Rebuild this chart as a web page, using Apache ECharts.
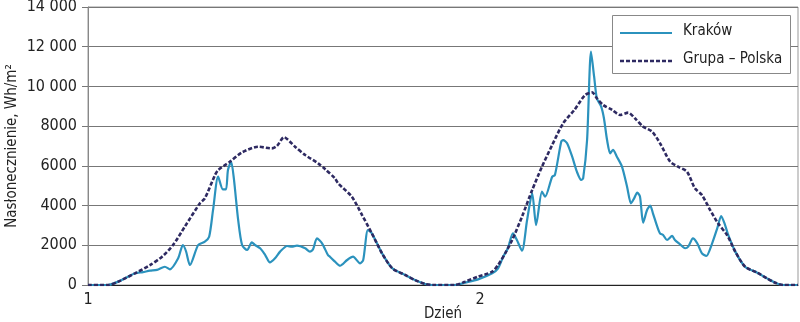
<!DOCTYPE html>
<html>
<head>
<meta charset="utf-8">
<script src="https://cdn.jsdelivr.net/npm/echarts@6/dist/echarts.min.js"></script>
<style>
html,body{margin:0;padding:0;background:#fff;}
#chart{width:800px;height:322px;}
</style>
</head>
<body>
<div id="chart"></div>
<script>
// Day (fractional) positions and values, Wh/m²
var krakowX = [1.000,1.051,1.077,1.120,1.140,1.158,1.176,1.196,1.209,1.230,1.242,1.250,1.260,1.281,1.298,1.309,1.319,1.332,1.344,1.352,1.357,1.365,1.372,1.383,1.393,1.406,1.418,1.426,1.439,1.452,1.464,1.477,1.490,1.508,1.520,1.533,1.554,1.566,1.574,1.584,1.597,1.612,1.617,1.630,1.643,1.661,1.676,1.694,1.702,1.714,1.724,1.750,1.776,1.809,1.834,1.860,1.878,1.936,1.962,1.995,2.031,2.046,2.059,2.071,2.084,2.094,2.107,2.120,2.133,2.143,2.158,2.166,2.184,2.191,2.207,2.212,2.222,2.235,2.247,2.258,2.263,2.273,2.283,2.291,2.298,2.309,2.316,2.324,2.332,2.339,2.349,2.362,2.375,2.385,2.393,2.401,2.408,2.416,2.426,2.434,2.441,2.452,2.459,2.467,2.477,2.490,2.497,2.510,2.523,2.531,2.543,2.554,2.566,2.577,2.592,2.605,2.615,2.625,2.633,2.651,2.676,2.707,2.732,2.753,2.773,2.811];
var krakowY = [0,0,170,590,650,720,760,920,790,1345,2015,1700,1007,2015,2180,2430,3780,5455,4820,4820,5790,6210,5370,3275,2015,1765,2150,2015,1850,1510,1140,1345,1680,1965,1930,1980,1850,1680,1800,2350,2100,1510,1425,1175,970,1260,1425,1090,1260,2770,2600,1595,840,505,250,50,0,0,120,285,590,840,1425,1850,2600,2265,1730,3275,4620,3020,4700,4450,5455,5540,7215,7300,7140,6460,5705,5290,5370,7300,11750,10490,9400,8980,8395,7300,6630,6800,6460,5960,4950,4115,4365,4650,4450,3140,3775,3995,3610,2935,2600,2520,2265,2470,2265,2050,1850,1930,2350,2100,1595,1460,2100,2855,3475,3020,2520,1680,920,620,335,115,0,0];

var polskaX = [1.000,1.051,1.077,1.120,1.158,1.189,1.217,1.247,1.286,1.298,1.324,1.332,1.362,1.393,1.434,1.469,1.482,1.500,1.528,1.554,1.587,1.605,1.630,1.638,1.673,1.699,1.724,1.750,1.776,1.809,1.834,1.860,1.878,1.936,1.962,1.995,2.031,2.046,2.064,2.082,2.107,2.133,2.158,2.184,2.212,2.240,2.268,2.286,2.298,2.314,2.337,2.357,2.378,2.395,2.416,2.439,2.459,2.485,2.505,2.528,2.548,2.566,2.587,2.607,2.630,2.651,2.676,2.707,2.732,2.753,2.773,2.811];
var polskaY = [0,0,170,590,1000,1425,2010,2940,4130,4365,5540,5790,6210,6680,6965,6880,7000,7440,6965,6545,6125,5830,5370,5120,4445,3525,2600,1595,840,505,250,50,0,0,170,420,670,1007,1595,2265,3440,4785,5960,7050,8145,8800,9570,9700,9400,9065,8815,8560,8680,8395,7975,7720,7140,6210,5960,5705,4870,4530,3775,3105,2520,1680,920,620,335,115,0,0];

var seriesNames = ['Kraków', 'Grupa – Polska'];
var yTickLabels = ['0','2000','4000','6000','8000','10 000','12 000','14 000'];
var xTickLabels = {1: '1', 2: '2'};
var yAxisTitle = 'Nasłonecznienie, Wh/m²';
var xAxisTitle = 'Dzień';

var FONT = "'DejaVu Sans Condensed', 'Liberation Sans Narrow', sans-serif";
var KRAKOW_COLOR = '#2b92bd';
var POLSKA_COLOR = '#2e2a62';
function pairs(xs, ys){ return xs.map(function(x,i){ return [x, ys[i]]; }); }

var chart = echarts.init(document.getElementById('chart'), null, {renderer:'canvas'});
chart.setOption({
  animation: false,
  backgroundColor: '#fff',
  textStyle: {fontFamily: FONT},
  grid: {left: 88, right: 2, top: 7, bottom: 37, outerBoundsMode: 'none', containLabel: false,
         show: true, borderColor: '#999', borderWidth: 1},
  graphic: [
    {type: 'rect', left: 612, top: 15, shape: {width: 178, height: 58},
     style: {fill: '#fff', stroke: '#888', lineWidth: 1}, z: 100},
    {type: 'line', shape: {x1: 620, y1: 33, x2: 672, y2: 33},
     style: {stroke: KRAKOW_COLOR, lineWidth: 2.2}, z: 101},
    {type: 'line', shape: {x1: 620, y1: 61, x2: 672, y2: 61},
     style: {stroke: POLSKA_COLOR, lineWidth: 2.6, lineDash: [4, 2]}, z: 101},
    {type: 'text', left: 683, top: 24, z: 101,
     style: {text: seriesNames[0], font: '15px ' + FONT, fill: '#222'}},
    {type: 'text', left: 683, top: 52, z: 101,
     style: {text: seriesNames[1], font: '15px ' + FONT, fill: '#222'}}
  ],
  xAxis: {
    type: 'value', min: 1, max: 2.811, interval: 1,
    name: xAxisTitle, nameLocation: 'middle', nameGap: 22, nameMoveOverlap: false,
    nameTextStyle: {fontFamily: FONT, fontSize: 15, color: '#222'},
    axisLine: {show: true, lineStyle: {color: '#222', width: 1}},
    axisTick: {show: false},
    splitLine: {show: false},
    axisLabel: {fontFamily: FONT, fontSize: 16, color: '#222', margin: 7,
      formatter: function(v){ return xTickLabels[v] || ''; }}
  },
  yAxis: {
    type: 'value', min: 0, max: 14000, interval: 2000,
    name: yAxisTitle, nameLocation: 'middle', nameGap: 68, nameRotate: 90, nameMoveOverlap: false,
    nameTextStyle: {fontFamily: FONT, fontSize: 15, color: '#222'},
    axisLine: {show: true, lineStyle: {color: '#888'}},
    axisTick: {show: true, inside: false, length: 6, lineStyle: {color: '#777'}},
    splitLine: {show: true, lineStyle: {color: '#777', width: 1}},
    axisLabel: {fontFamily: FONT, fontSize: 16, color: '#222', margin: 11,
      formatter: function(v){ return yTickLabels[Math.round(v/2000)]; }}
  },
  series: [
    {
      name: seriesNames[0], type: 'line', data: pairs(krakowX, krakowY),
      symbol: 'none', smooth: 0.25,
      lineStyle: {color: KRAKOW_COLOR, width: 2.2},
      itemStyle: {color: KRAKOW_COLOR}
    },
    {
      name: seriesNames[1], type: 'line', data: pairs(polskaX, polskaY),
      symbol: 'none', smooth: 0.25,
      lineStyle: {color: POLSKA_COLOR, width: 2.6, type: [4, 2]},
      itemStyle: {color: POLSKA_COLOR}
    }
  ]
});
</script>
</body>
</html>
